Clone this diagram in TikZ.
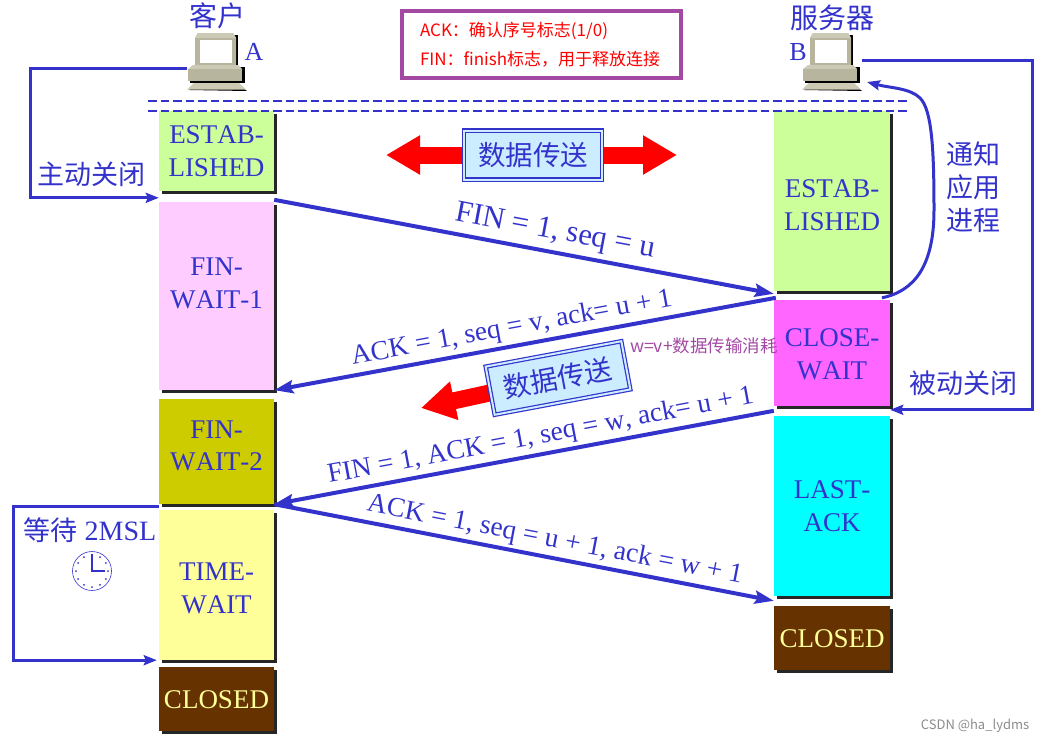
\documentclass[tikz,border=0pt]{standalone}
\usepackage{fontspec}
\setmainfont[Kerning=Off]{Liberation Serif}
\newfontfamily\cjk{Noto Sans CJK SC}
\usetikzlibrary{arrows.meta,shadows,calc}
\definecolor{flowblue}{HTML}{3333CC}
\definecolor{notepurple}{HTML}{A349A4}
\definecolor{pcdark}{HTML}{B8B59E}
\definecolor{pclight}{HTML}{CCCAB5}
\definecolor{datafill}{HTML}{CCECFF}
\definecolor{estabgreen}{HTML}{CCFF99}
\definecolor{wait1pink}{HTML}{FFCCFF}
\definecolor{wait2olive}{HTML}{CCCC00}
\definecolor{timeyellow}{HTML}{FFFF99}
\definecolor{closedbrown}{HTML}{663300}
\definecolor{closemagenta}{HTML}{FF66FF}
\definecolor{lastcyan}{HTML}{00FFFF}
\tikzstyle{state}=[rectangle,text=flowblue,align=center,inner sep=0pt,% dark edge at the lower right
font=\fontsize{27}{32.5}\selectfont,
drop shadow={shadow xshift=3pt,shadow yshift=-3pt,opacity=1,fill=black!85}]
\tikzstyle{leftst}=[state,minimum width=115pt]
\tikzstyle{rightst}=[state,minimum width=116pt]
\tikzstyle{bigtext}=[text=flowblue,inner sep=0pt,font=\fontsize{26}{32}\selectfont]
\tikzstyle{seqtext}=[text=flowblue,inner sep=2pt,sloped,font=\fontsize{27.5}{32}\selectfont]
\tikzstyle{dgraph}=[draw=flowblue,line width=4pt,-{Stealth[length=19pt,width=13pt,inset=3pt]}]
\tikzstyle{loopline}=[draw=flowblue,line width=3pt,-{Stealth[length=13pt,width=10pt,inset=2pt]}]
\tikzstyle{datahead}=[draw=red,line width=17pt,-{Triangle[length=34pt,width=37pt]}]
\tikzstyle{databox}=[draw=flowblue,double=datafill,double distance=2pt,line width=1.2pt,fill=datafill,
text=flowblue,minimum width=138pt,minimum height=49pt,inner sep=0pt,font=\cjk\fontsize{27.5}{32}\selectfont]
\tikzstyle{dashline}=[draw=flowblue,line width=2pt,dash pattern=on 8.5pt off 4pt]
\tikzset{computer/.pic={
\fill[black] (-27,5) rectangle (28,21);
\fill[black] (-28,28) -- (-21,23) -- (22,23) -- (30,29) -- cycle;
\fill[black] (-18,-27) rectangle (21,4);
\fill[pcdark] (-22,-24) -- (-19,-29) -- (16,-29) -- (19,-24) -- (19,3) -- (-22,3) -- cycle;
\fill[pclight] (-19,-29) -- (16,-29) -- (19,-24) -- (-22,-24) -- cycle;
\fill[white] (-17,-22) rectangle (15,1);
\fill[pclight] (-24,3) -- (21,3) -- (25,7) -- (-29,7) -- cycle;
\fill[pcdark] (-29,7) rectangle (25,19);
\fill[pclight] (-30,27.5) -- (-23,21) -- (22,21) -- (29,27.5) -- cycle;
\node[minimum width=59pt,minimum height=57pt,inner sep=0pt] (-box) at (0,-0.5) {};
}}

\begin{document}
\begin{tikzpicture}[x=1pt,y=-1pt]
\useasboundingbox (0,0) rectangle (1044,742);

% client column
\node[leftst,fill=estabgreen,minimum height=80pt] (estA) at (216.5,151) {ESTAB-\\LISHED};
\node[leftst,fill=wait1pink,minimum height=188pt,text depth=26pt] (fw1) at (216.5,296) {FIN-\\WAIT-1};
\node[leftst,fill=wait2olive,minimum height=105pt,text depth=12pt] (fw2) at (216.5,451.5) {FIN-\\WAIT-2};
\node[leftst,fill=timeyellow,minimum height=150pt,text height=57pt] (tw) at (216.5,585) {TIME-\\WAIT};
\node[leftst,fill=closedbrown,text=timeyellow,minimum height=64pt,text height=20pt] (clsA) at (216.5,699) {CLOSED};

% server column
\node[rightst,fill=estabgreen,minimum height=180pt,text height=59pt] (estB) at (832,201) {ESTAB-\\LISHED};
\node[rightst,fill=closemagenta,minimum height=106pt,text height=53pt] (clw) at (832,353) {CLOSE-\\WAIT};
\node[rightst,fill=lastcyan,minimum height=180pt] (lack) at (832,506) {LAST-\\ACK};
\node[rightst,fill=closedbrown,text=timeyellow,minimum height=64pt,text height=20pt] (clsB) at (832,638) {CLOSED};

\pic (pcA) at (217,62) {computer};
\pic (pcB) at (832,62) {computer};

\node[bigtext,font=\cjk\fontsize{28}{32}\selectfont] (clientname) at (217,16) {客户};
\node[bigtext,font=\cjk\fontsize{28}{32}\selectfont] (servername) at (832,18) {服务器};
\node[bigtext] (nameA) at (254,52) {A};
\node[bigtext] (nameB) at (798,52) {B};

\draw[dashline] (148,101) -- (907,101);
\draw[dashline] (148,111) -- (907,111);

\node[draw=notepurple,line width=4pt,fill=white,minimum width=279pt,minimum height=67pt,inner sep=0pt,text=red,
align=left,text width=243pt,font=\cjk\fontsize{17}{29}\selectfont] (note) at (541.5,44.5)
{ACK：确认序号标志(1/0)\\FIN：finish标志，用于释放连接};

% red arrows behind the data boxes
\coordinate (tipL) at (386,155);
\coordinate (tipR) at (677,155);
\coordinate (tipS) at (421,408);
\coordinate (boxS) at (558,378);
\draw[datahead] (533,155) -- (tipL);
\draw[datahead] (533,155) -- (tipR);
\draw[datahead] (boxS) -- (tipS);
\node[databox] (data1) at (533,155) {数据传送};
\node[databox,rotate=10.6] (data2) at (boxS) {数据传送};

% segments between the two columns
\draw[dgraph] ([yshift=2pt]fw1.north east) -- ([yshift=6pt]clw.north west)
 node[seqtext,pos=0.555,above=3pt,font=\fontsize{30.7}{34}\selectfont] (seqa) {FIN = 1, seq = u};
\draw[dgraph] ([xshift=2pt,yshift=2pt]clw.north west) -- (fw1.south east)
 node[seqtext,pos=0.52,above=1pt] (seqb) {ACK = 1, seq = v, ack= u + 1};
\draw[dgraph] ([yshift=5pt]lack.north west) -- (fw2.south east)
 node[seqtext,pos=0.46,above=1pt] (seqc) {FIN = 1, ACK = 1, seq = w, ack= u + 1};
\draw[dgraph] (fw2.south east) -- ([yshift=5pt]clsB.north west)
 node[seqtext,pos=0.555,above=1pt] (seqd) {ACK = 1, seq = u + 1, ack = w + 1};

\node[text=notepurple,inner sep=0pt,font=\cjk\fontsize{17.5}{20}\selectfont] (wnote) at (704,346) {w=v+数据传输消耗};

% loops at the sides
\coordinate (closeL) at (30,130);
\draw[loopline] ([yshift=-6.5pt]pcA-box.west) -| (closeL) |- ([yshift=4pt]fw1.north west);
\node[bigtext,font=\cjk\fontsize{27}{32}\selectfont] (activeclose) at (91,174) {主动关闭};

\coordinate (closeR) at (1032,240);
\draw[loopline] ([yshift=1.5pt]pcB-box.east) -| (closeR) |- ([yshift=6pt]lack.north east);
\node[bigtext,font=\cjk\fontsize{27}{32}\selectfont] (passiveclose) at (963,383) {被动关闭};

\coordinate (notifyend) at (867,82);
\coordinate (waitL) at (13,585);
\draw[loopline] ([xshift=50pt,yshift=2pt]clw.north) .. controls (915,291) and (934,265) .. (934,210)
 .. controls (934,150) and (932,110) .. (920,98) .. controls (910,88) and (890,88) .. (notifyend);
\node[bigtext,align=center,font=\cjk\fontsize{27}{33}\selectfont] (notify) at (973,187) {通知\\应用\\进程};

\draw[loopline] ([yshift=3pt]tw.north west) -| (waitL) |- ([xshift=-2pt]tw.south west);
\node[bigtext,font=\fontsize{28}{32}\selectfont] (waitlabel) at (90,530) {{\cjk\fontsize{27}{32}\selectfont 等待} 2MSL};

% clock face
\node[circle,draw=flowblue,line width=0.6pt,minimum size=39pt,inner sep=0pt] (clock) at (92,571) {};
\foreach \a in {0,30,...,330}
  \fill[flowblue] (clock.center) ++(\a:16) circle (1);
\draw[flowblue,line width=1.5pt] (92,554) -- (clock.center) -- (105,571);

\node[text=black!45,inner sep=0pt,font=\cjk\fontsize{13}{15}\selectfont] (mark) at (975,726) {CSDN @ha\_lydms};
\end{tikzpicture}
\end{document}
